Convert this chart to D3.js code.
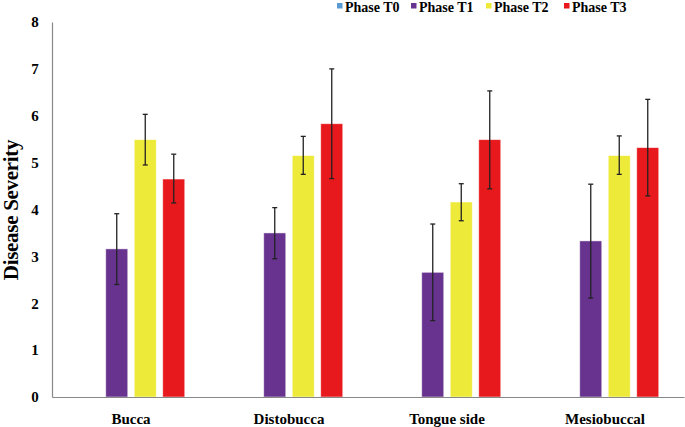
<!DOCTYPE html>
<html><head><meta charset="utf-8">
<script src="https://cdn.jsdelivr.net/npm/d3@7"></script>
<style>
body{margin:0;background:#fff;}
svg{display:block;}
text{font-family:"Liberation Serif","Times New Roman",serif;font-weight:bold;fill:#000;}
</style></head>
<body>
<svg id="chart" width="685" height="427"></svg>
<script>
const categories = ["Bucca","Distobucca","Tongue side","Mesiobuccal"];
const seriesNames = ["Phase T0","Phase T1","Phase T2","Phase T3"];
const seriesColors = ["#5b9bd5","#67338f","#eeea3a","#e8191c"];
const valuesT0 = [0,0,0,0];
const valuesT1 = [3.16,3.50,2.66,3.33];
const valuesT2 = [5.49,5.15,4.16,5.15];
const valuesT3 = [4.65,5.83,5.49,5.32];
const errLowT1 = [2.40,2.95,1.63,2.11];
const errHighT1 = [3.91,4.04,3.69,4.54];
const errLowT2 = [4.95,4.75,3.76,4.75];
const errHighT2 = [6.03,5.56,4.55,5.57];
const errLowT3 = [4.14,4.66,4.44,4.29];
const errHighT3 = [5.18,7.00,6.53,6.35];
const yTicks = [0,1,2,3,4,5,6,7,8];

const values = [valuesT0,valuesT1,valuesT2,valuesT3];
const errLow = [null,errLowT1,errLowT2,errLowT3];
const errHigh = [null,errHighT1,errHighT2,errHighT3];

const svg = d3.select("#chart");
const mLeft = 52, mRight = 684, mTop = 22, mBottom = 397;

const x0 = d3.scaleBand().domain(categories).range([mLeft,mRight]).padding(0);
const x1 = d3.scaleBand().domain(seriesNames).range([0,x0.bandwidth()])
  .paddingInner(0.228).paddingOuter(0.886);
const y = d3.scaleLinear().domain([0,8]).range([mBottom,mTop]);

const rows = [];
categories.forEach((c,ci)=>{
  seriesNames.forEach((s,si)=>{
    rows.push({c, s, si, v: values[si][ci],
      lo: errLow[si] ? errLow[si][ci] : null,
      hi: errHigh[si] ? errHigh[si][ci] : null});
  });
});

svg.append("g").selectAll("rect").data(rows.filter(d=>d.v>0)).join("rect")
  .attr("x", d=>x0(d.c)+x1(d.s))
  .attr("y", d=>y(d.v))
  .attr("width", x1.bandwidth())
  .attr("height", d=>y(0)-y(d.v))
  .attr("fill", d=>seriesColors[d.si])
  .attr("stroke","rgba(255,255,255,0.6)")
  .attr("stroke-width",0.8);

const eg = svg.append("g").attr("stroke","#222").attr("stroke-width",1.3);
rows.filter(d=>d.lo!==null).forEach(d=>{
  const cx = x0(d.c)+x1(d.s)+x1.bandwidth()/2;
  eg.append("line").attr("x1",cx).attr("x2",cx).attr("y1",y(d.lo)).attr("y2",y(d.hi));
  [d.lo,d.hi].forEach(v=>{
    eg.append("line").attr("x1",cx-2.5).attr("x2",cx+2.5).attr("y1",y(v)).attr("y2",y(v));
  });
});

const yAxis = d3.axisLeft(y).tickValues(yTicks).tickSize(0).tickPadding(14).tickFormat(d3.format("d"));
const ya = svg.append("g").attr("transform",`translate(${mLeft},0)`).call(yAxis);
ya.attr("font-family",null);
ya.select(".domain").attr("stroke","#888").attr("stroke-width",1.2);
ya.selectAll("text").style("font-size","15px").style("font-family","Liberation Serif").style("font-weight","bold").attr("text-anchor","middle").attr("dx","-3");

const xAxis = d3.axisBottom(x0).tickSize(0).tickPadding(16);
const xa = svg.append("g").attr("transform",`translate(0,${mBottom})`).call(xAxis);
xa.attr("font-family",null);
xa.select(".domain").attr("stroke","#888").attr("stroke-width",1.2);
xa.selectAll("text").style("font-size","15px").style("font-family","Liberation Serif").style("font-weight","bold");

svg.append("text").attr("transform","translate(18,210) rotate(-90)")
  .attr("text-anchor","middle").style("font-size","21px").style("letter-spacing","-0.3px").text("Disease Severity");

const legendX = [337,411,486,564];
const lg = svg.append("g");
seriesNames.forEach((s,i)=>{
  lg.append("rect").attr("x",legendX[i]).attr("y",3).attr("width",5.5).attr("height",5.5).attr("fill",seriesColors[i]);
  lg.append("text").attr("x",legendX[i]+8).attr("y",11.5).style("font-size","14px").text(s);
});
</script>
</body></html>
